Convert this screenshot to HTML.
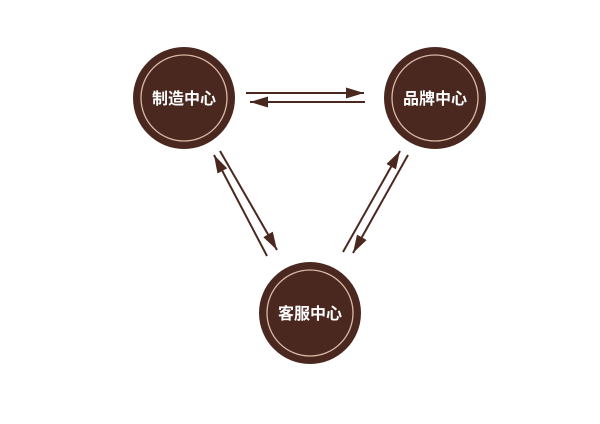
<!DOCTYPE html>
<html><head><meta charset="utf-8"><style>
html,body{margin:0;padding:0;background:#fff;}
svg{display:block}
text{font-family:"Liberation Sans","Noto Sans CJK SC",sans-serif;font-weight:bold;font-size:16px;fill:#fff}
</style></head><body>
<svg width="600" height="424" viewBox="0 0 600 424">
<defs>
<marker id="b" viewBox="0 0 18 11" refX="18" refY="5.5" markerWidth="18" markerHeight="11" markerUnits="userSpaceOnUse" orient="auto">
<path d="M0,0 L18,5.5 L0,11 Z" fill="#4a2820"/></marker>
</defs>
<g fill="#4a2820">
<circle cx="184" cy="98" r="51"/>
<circle cx="435" cy="98" r="51"/>
<circle cx="310" cy="313" r="51"/>
</g>
<g fill="none" stroke="#d9b8a6" stroke-width="1.3">
<circle cx="184" cy="98" r="43"/>
<circle cx="435" cy="98" r="43"/>
<circle cx="310" cy="313" r="43"/>
</g>
<text x="184" y="104" text-anchor="middle">制造中心</text>
<text x="435" y="104" text-anchor="middle">品牌中心</text>
<text x="310" y="319" text-anchor="middle">客服中心</text>
<g stroke="#4a2820" stroke-width="2" fill="none">
<line x1="246" y1="93" x2="364" y2="93" marker-end="url(#b)"/>
<line x1="365" y1="102" x2="250" y2="102" marker-end="url(#b)"/>
<line x1="220" y1="151" x2="277" y2="250" marker-end="url(#b)"/>
<line x1="267" y1="256" x2="214" y2="155" marker-end="url(#b)"/>
<line x1="343" y1="252" x2="400" y2="151" marker-end="url(#b)"/>
<line x1="408" y1="155" x2="353" y2="253" marker-end="url(#b)"/>
</g>
</svg>
</body></html>
